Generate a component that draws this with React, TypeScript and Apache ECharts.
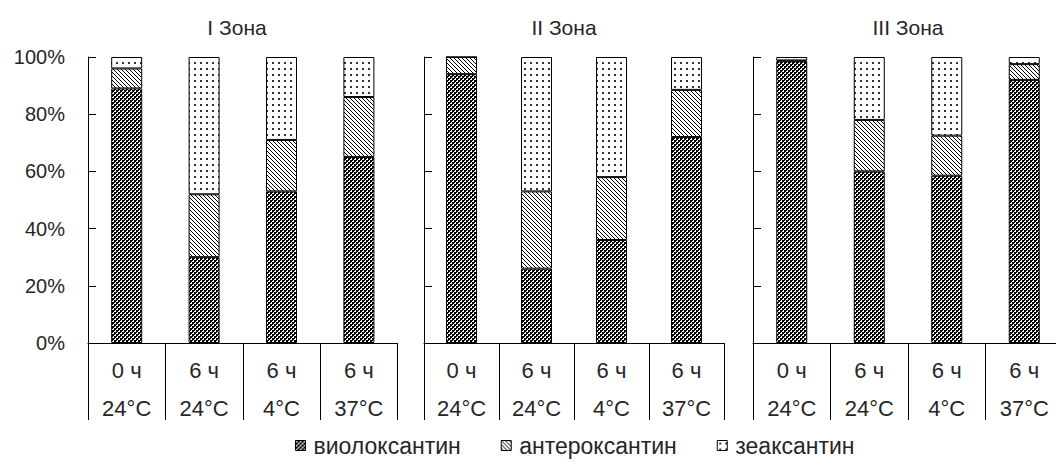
import React, { useEffect, useRef } from 'react';
import * as echarts from 'echarts';

const zones = ['I Зона', 'II Зона', 'III Зона'];
const categories = ['0 ч\n24°C', '6 ч\n24°C', '6 ч\n4°C', '6 ч\n37°C'];
const seriesNames = ['виолоксантин', 'антероксантин', 'зеаксантин'];
const violaxanthin = [
  [89, 30, 53, 65],
  [94, 26, 36, 72],
  [98.5, 60, 58.5, 92],
];
const antheraxanthin = [
  [7, 22, 18, 21],
  [6, 27, 22, 16.5],
  [0.3, 18, 14, 5.5],
];
const zeaxanthin = [
  [4, 48, 29, 14],
  [0, 47, 42, 11.5],
  [1.2, 22, 27.5, 2.5],
];
const yMin = 0;
const yMax = 100;
const yStep = 20;

const FONT = '"Liberation Sans", Arial, sans-serif';
const TEXT = '#262626';

function makeTile(w: number, h: number, draw: (ctx: CanvasRenderingContext2D) => void) {
  const c = document.createElement('canvas');
  c.width = w;
  c.height = h;
  const ctx = c.getContext('2d')!;
  ctx.fillStyle = '#fff';
  ctx.fillRect(0, 0, w, h);
  draw(ctx);
  return { image: c.toDataURL(), repeat: 'repeat', imageWidth: w, imageHeight: h };
}

export default function App() {
  const ref = useRef<HTMLDivElement>(null);
  useEffect(() => {
    if (!ref.current) return;
    const chart = echarts.init(ref.current, undefined, { renderer: 'svg' });

    const checker = makeTile(4, 4, (ctx) => {
      ctx.fillStyle = '#000';
      ctx.fillRect(2, 0, 2, 2);
      ctx.fillRect(0, 2, 2, 2);
      ctx.fillRect(0, 0, 1, 1);
      ctx.fillRect(2, 2, 1, 1);
    });
    const diag = makeTile(4, 4, (ctx) => {
      ctx.fillStyle = '#000';
      for (let i = 0; i < 4; i++) ctx.fillRect(i, i, 1, 1);
    });
    const dots = makeTile(6, 6, (ctx) => {
      ctx.fillStyle = '#333';
      ctx.fillRect(2, 2, 2, 2);
    });
    const patterns = [checker, diag, dots];
    const dataSets = [violaxanthin, antheraxanthin, zeaxanthin];

    const grids = [
      { left: 88, top: 57, width: 309.6, height: 286 },
      { left: 424, top: 57, width: 300, height: 286 },
      { left: 753, top: 57, width: 310, height: 286 },
    ];
    const titleX = [237, 564, 908];

    const series: any[] = [];
    zones.forEach((_, zi) => {
      seriesNames.forEach((name, si) => {
        series.push({
          type: 'bar',
          name,
          stack: 'zone' + zi,
          xAxisIndex: zi,
          yAxisIndex: zi,
          barWidth: 31,
          silent: true,
          data: dataSets[si][zi],
          itemStyle: { color: patterns[si], borderColor: '#000', borderWidth: 1 },
        });
      });
    });

    chart.setOption({
      animation: false,
      grid: grids.map((g) => ({ ...g, containLabel: false, outerBoundsMode: 'none' })),
      xAxis: zones.map((_, zi) => ({
        type: 'category',
        gridIndex: zi,
        data: categories,
        boundaryGap: true,
        axisLine: { show: true, lineStyle: { color: '#000', width: 1 } },
        axisTick: { show: true, interval: 0, length: 77, inside: false, lineStyle: { color: '#000', width: 1 } },
        axisLabel: {
          interval: 0,
          margin: 8,
          lineHeight: 38,
          fontSize: 22,
          fontFamily: FONT,
          color: TEXT,
        },
        splitLine: { show: false },
      })),
      yAxis: zones.map((_, zi) => ({
        type: 'value',
        gridIndex: zi,
        min: yMin,
        max: yMax,
        interval: yStep,
        axisLine: { show: true, lineStyle: { color: '#000', width: 1 } },
        axisTick: { show: true, inside: true, length: 8, lineStyle: { color: '#000', width: 1 } },
        axisLabel: {
          show: zi === 0,
          formatter: '{value}%',
          margin: 23,
          fontSize: 20,
          fontFamily: FONT,
          color: TEXT,
        },
        splitLine: { show: false },
      })),
      legend: {
        data: seriesNames,
        left: 295,
        top: 434,
        padding: 0,
        icon: 'rect',
        itemWidth: 10,
        itemHeight: 10,
        itemGap: 40,
        itemStyle: { borderColor: '#000', borderWidth: 1 },
        textStyle: { fontSize: 23, fontFamily: FONT, color: TEXT, padding: [0, 0, 0, 3] },
        selectedMode: false,
      },
      graphic: zones.map((z, zi) => ({
        type: 'text',
        x: titleX[zi],
        y: 27,
        silent: true,
        style: {
          text: z,
          font: `21px ${FONT}`,
          fill: TEXT,
          align: 'center',
          verticalAlign: 'middle',
          textAlign: 'center',
          textVerticalAlign: 'middle',
        },
      })),
      series,
    });
    return () => chart.dispose();
  }, []);
  return (
    <div
      ref={ref}
      style={{ position: 'fixed', left: 0, top: 0, width: 1056, height: 461, background: '#fff' }}
    />
  );
}
